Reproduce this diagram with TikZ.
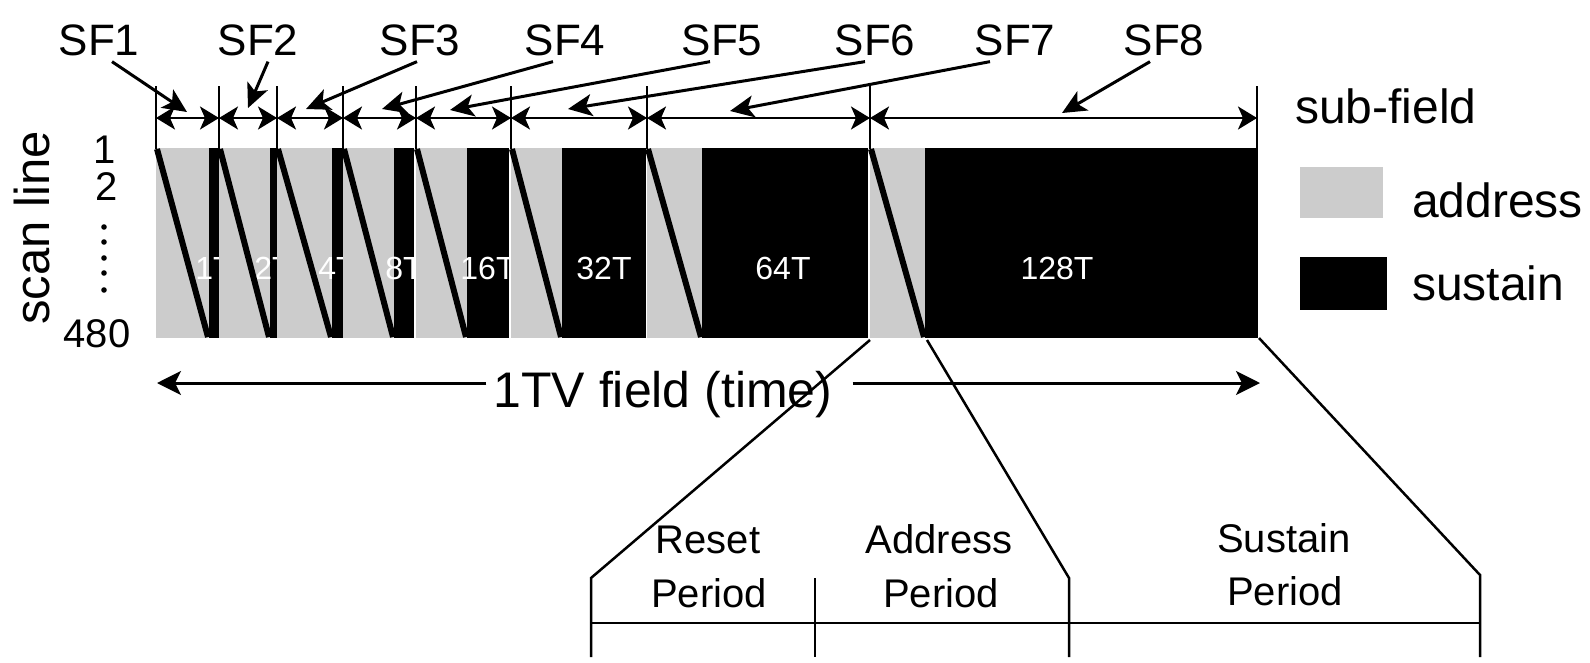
\documentclass[tikz,border=0pt]{standalone}
\usepackage{fontspec}
\setmainfont{Liberation Sans}
\usetikzlibrary{arrows.meta}
\definecolor{addrgray}{gray}{0.8}
\begin{document}
\begin{tikzpicture}[x=1pt,y=-1pt,
  sflbl/.style={font=\fontsize{44}{50}\selectfont,inner sep=0pt,anchor=base},
  leg/.style={font=\fontsize{48}{56}\selectfont,inner sep=0pt,anchor=base west},
  num/.style={font=\fontsize{40}{46}\selectfont,inner sep=0pt,anchor=base},
  blk/.style={font=\fontsize{32}{38}\selectfont,text=white,inner sep=0pt},
  per/.style={font=\fontsize{40}{46}\selectfont,inner sep=0pt,anchor=base},
  addr/.style={fill=addrgray},
  sus/.style={fill=black},
  tickln/.style={line width=2pt},
  diag/.style={line width=6pt},
  dbl/.style={line width=2.2pt,{Stealth[length=19pt,width=23pt,inset=5pt]}-{Stealth[length=19pt,width=23pt,inset=5pt]}},
  ptr/.style={line width=3pt,-{Stealth[length=24pt,width=22pt,inset=6pt]}},
  tvarr/.style={line width=3pt,-{Stealth[length=24pt,width=24pt,inset=6pt]}},
  outln/.style={line width=2.5pt},
]
\useasboundingbox (0,0) rectangle (1590,662);
\fill[white] (0,0) rectangle (1590,662);

% sub-field blocks
\foreach \i/\L/\B/\R/\t/\tx in {1/156/209/219/1T/214, 2/219/270/277/2T/273, 3/277/332/343/4T/337, 4/343/394/414/8T/404, 5/416/467/509/16T/488, 6/511/562/646/32T/604, 7/647/702/868/64T/783, 8/870/925/1257/128T/1057}{
  \fill[addr] (\L,148) rectangle (\B,338);
  \fill[sus] (\B,148) rectangle (\R,338);
  \node[blk] (w\i) at (\tx,268) {\t};
}
\foreach \i/\L/\B/\R in {1/156/209/219, 2/219/270/277, 3/277/332/343, 4/343/394/416, 5/416/467/511, 6/511/562/647, 7/647/702/870, 8/870/925/1257}{
  \draw[diag] (\L+1,149) -- (\B-1,337);
  \draw[tickln] (\L,86) -- (\L,149);
  \draw[dbl] (\L,118) -- (\R,118);
}
\draw[tickln] (1257,86) -- (1257,338);

% SF labels and pointers
\foreach \i/\x in {1/99, 2/258, 3/420, 4/565, 5/722, 6/875, 7/1015, 8/1164}{
  \node[sflbl] (sf\i) at (\x,55) {SF\i};
}
\foreach \i/\tx/\ty in {1/187/112, 2/248/108, 3/306/109, 4/382/109, 5/450/110, 6/568/109, 7/730/111, 8/1062/113}{
  \coordinate (t\i) at (\tx,\ty);
}
\foreach \i/\dx in {1/13, 2/10, 3/-3, 4/-12, 5/-12, 6/-10, 7/-25, 8/-14}{
  \draw[ptr] ([shift={(\dx pt,-6pt)}]sf\i.south) -- (t\i);
}

% legend
\node[leg] (lsub) at (1295,123) {sub-field};
\fill[addr] (1300,167) rectangle (1383,218);
\node[leg] (laddr) at (1412,217) {address};
\fill[sus] (1300,257) rectangle (1387,310);
\node[leg] (lsus) at (1412,300) {sustain};

% scan line axis
\node[font=\fontsize{49}{56}\selectfont,inner sep=0pt,anchor=base,rotate=90] (scan) at (49,228) {scan line};
\node[num] (n1) at (105,163) {1};
\node[num] (n2) at (107,200) {2};
\node[num] (n480) at (97,347) {480};
\foreach \y in {227,242,258,273,290}{
  \fill (104,\y) circle (2.8pt);
}

% 1TV field
\node[font=\fontsize{50}{58}\selectfont,inner sep=0pt,anchor=base] (tv) at (663,407) {1TV field (time)};
\coordinate (tvl) at (157,383);
\coordinate (tvr) at (1260,383);
\coordinate (tva) at ([xshift=-7pt]tv.west);
\coordinate (tvb) at ([xshift=20pt]tv.east);
\draw[tvarr] (tva |- tvl) -- (tvl);
\draw[tvarr] (tvb |- tvr) -- (tvr);

% expanded sub-field
\draw[outln] (870,340) -- (591,578) -- (591,657);
\draw[outln] (927,340) -- (1069,578) -- (1069,657);
\draw[outln] (1259,338) -- (1480,575) -- (1480,657);
\draw[outln] (591,623) -- (1480,623);
\draw[outln] (815,578) -- (815,657);
\node[per] (r1) at (708,553) {Reset};
\node[per] (r2) at (709,607) {Period};
\node[per] (a1) at (939,553) {Address};
\node[per] (a2) at (941,607) {Period};
\node[per] (s1) at (1284,552) {Sustain};
\node[per] (s2) at (1285,605) {Period};
\end{tikzpicture}
\end{document}
